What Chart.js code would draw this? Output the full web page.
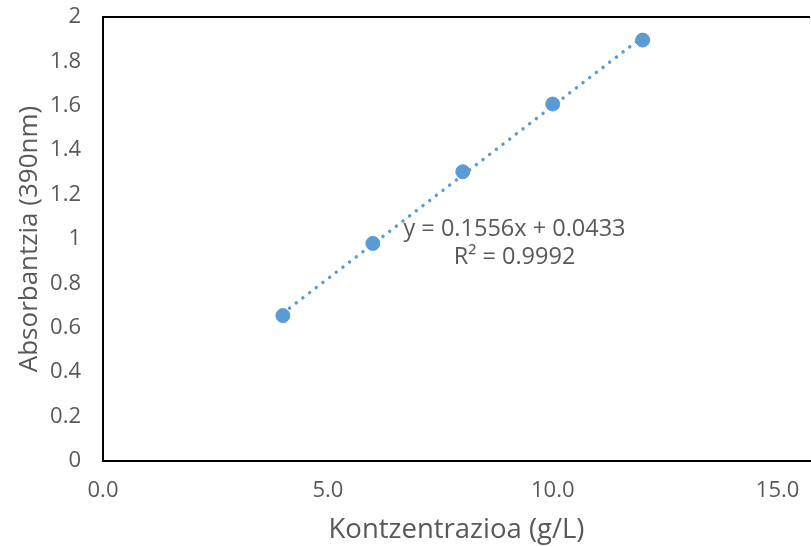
<!DOCTYPE html>
<html>
<head>
<meta charset="utf-8">
<script src="https://cdn.jsdelivr.net/npm/chart.js@4.4.1/dist/chart.umd.min.js"></script>
<style>
  html, body { margin: 0; padding: 0; background: #ffffff; overflow: hidden; }
  #wrap { width: 818px; height: 547px; position: relative; }
</style>
</head>
<body>
<div id="wrap"><canvas id="c"></canvas></div>
<script>
// Calibration data: concentration (g/L) vs absorbance at 390 nm
const concentration = [4, 6, 8, 10, 12];
const absorbance = [0.655, 0.98, 1.303, 1.608, 1.896];

// Linear fit reported on the chart
const slope = 0.1556;
const intercept = 0.0433;
const rSquared = 0.9992;
const fitRange = [4, 12];

const xTicks = [0, 5, 10, 15];
const yTicks = [0, 0.2, 0.4, 0.6, 0.8, 1, 1.2, 1.4, 1.6, 1.8, 2];

const fitPoints = fitRange.map(x => ({ x: x, y: slope * x + intercept }));
const points = concentration.map((x, i) => ({ x: x, y: absorbance[i] }));

const FONT = '"Open Sans", "Noto Sans", sans-serif';
const TEXT = '#595959';
const BLUE = '#5B9BD5';

// Top frame line and the regression label
const extras = {
  id: 'extras',
  afterDraw(chart) {
    const { ctx, chartArea, scales } = chart;
    ctx.save();
    ctx.strokeStyle = '#000000';
    ctx.lineWidth = 2;
    ctx.beginPath();
    ctx.moveTo(chartArea.left - 1, chartArea.top);
    ctx.lineTo(chartArea.right, chartArea.top);
    ctx.stroke();

    ctx.fillStyle = TEXT;
    ctx.font = '23.5px ' + FONT;
    ctx.textAlign = 'center';
    ctx.textBaseline = 'middle';
    const lx = scales.x.getPixelForValue(9.15);
    const ly = scales.y.getPixelForValue(1.042);
    ctx.fillText('y = ' + slope + 'x + ' + intercept, lx, ly);
    ctx.fillText('R² = ' + rSquared, lx, ly + 28);
    ctx.restore();
  }
};

new Chart(document.getElementById('c'), {
  type: 'scatter',
  data: {
    datasets: [
      {
        label: 'Lineala',
        data: fitPoints,
        showLine: true,
        borderColor: BLUE,
        borderWidth: 3.5,
        borderDash: [0.01, 8.4],
        borderCapStyle: 'round',
        pointRadius: 0,
        fill: false,
        order: 2
      },
      {
        label: 'Absorbantzia',
        data: points,
        backgroundColor: BLUE,
        borderColor: BLUE,
        pointRadius: 7,
        pointBorderWidth: 1,
        order: 1
      }
    ]
  },
  options: {
    responsive: true,
    maintainAspectRatio: false,
    animation: false,
    layout: { padding: { top: 17, right: 0, bottom: 0, left: 0 } },
    plugins: {
      legend: { display: false },
      tooltip: { enabled: false }
    },
    scales: {
      x: {
        type: 'linear',
        min: 0,
        max: 15.72,
        afterBuildTicks: s => { s.ticks = xTicks.map(v => ({ value: v })); },
        afterFit: s => { s.height = 86; s.paddingLeft = 0; s.paddingRight = 0; },
        grid: { display: false, drawTicks: false },
        border: { display: true, color: '#000000', width: 2 },
        ticks: {
          color: TEXT,
          font: { family: FONT, size: 22 },
          padding: 17,
          callback: v => Number(v).toFixed(1)
        },
        title: {
          display: true,
          text: 'Kontzentrazioa (g/L)',
          color: TEXT,
          font: { family: FONT, size: 27.5 },
          padding: { top: 4, bottom: 0 }
        }
      },
      y: {
        type: 'linear',
        min: 0,
        max: 2,
        afterBuildTicks: s => { s.ticks = yTicks.map(v => ({ value: v })); },
        afterFit: s => { s.width = 103; s.paddingTop = 0; s.paddingBottom = 0; },
        grid: { display: false, drawTicks: false },
        border: { display: true, color: '#000000', width: 2 },
        ticks: {
          color: TEXT,
          font: { family: FONT, size: 22 },
          padding: 22,
          callback: v => String(parseFloat(Number(v).toFixed(2)))
        },
        title: {
          display: true,
          text: 'Absorbantzia (390nm)',
          color: TEXT,
          font: { family: FONT, size: 26 },
          padding: { top: 14, bottom: 0 }
        }
      }
    }
  },
  plugins: [extras]
});
</script>
</body>
</html>
